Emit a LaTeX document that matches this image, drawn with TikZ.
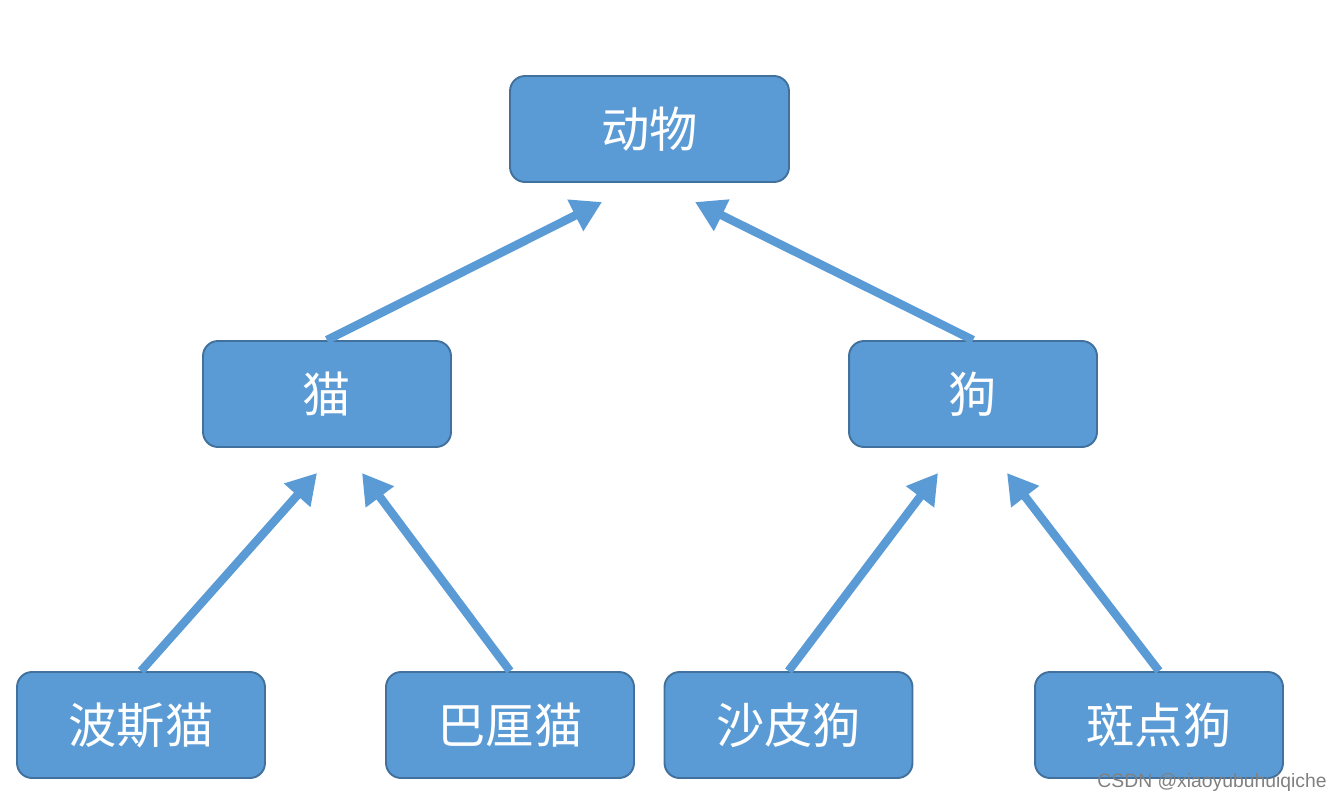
\documentclass[tikz,border=0pt]{standalone}
\usepackage{fontspec}
\setsansfont{Liberation Sans}
\newfontfamily\cjk{Noto Sans CJK SC}
\usetikzlibrary{arrows.meta}

\definecolor{boxfill}{HTML}{5B9BD5}
\definecolor{boxline}{HTML}{41719C}
\definecolor{arrowblue}{HTML}{5B9BD5}

\begin{document}
\begin{tikzpicture}[x=0.02cm, y=-0.02cm,
    box/.style={draw=boxline, line width=1.1pt, fill=boxfill, rounded corners=0.3cm,
        minimum width=4.96cm, minimum height=2.12cm, text=white,
        font=\cjk\fontsize{27.5}{32}\selectfont},
    up/.style={draw=arrowblue, line width=4.8pt,
        -{Triangle[length=17pt, width=19pt]}}]
    \useasboundingbox (0,0) rectangle (1339,802);

    % Tree of animals
    \node[box, minimum width=5.58cm] (animal) at (649.5,129) {动物};
    \node[box] (cat) at (327,394) {猫};
    \node[box] (dog) at (973,394) {狗};
    \node[box] (persian) at (141,725) {波斯猫};
    \node[box] (bali) at (510,725) {巴厘猫};
    \node[box] (sharpei) at (788.5,725) {沙皮狗};
    \node[box] (spotted) at (1159,725) {斑点狗};

    % Arrow tips
    \coordinate (animal-l) at (602,202);
    \coordinate (animal-r) at (695,202);
    \coordinate (cat-l) at (317,473);
    \coordinate (cat-r) at (362,473);
    \coordinate (dog-l) at (938,473);
    \coordinate (dog-r) at (1007,473);

    \draw[up] (cat.north) -- (animal-l);
    \draw[up] (dog.north) -- (animal-r);
    \draw[up] (persian.north) -- (cat-l);
    \draw[up] (bali.north) -- (cat-r);
    \draw[up] (sharpei.north) -- (dog-l);
    \draw[up] (spotted.north) -- (dog-r);

    \node[text=gray, font=\sffamily\fontsize{11}{13}\selectfont] (mark) at (1212,782) {CSDN @xiaoyubuhuiqiche};
\end{tikzpicture}
\end{document}
